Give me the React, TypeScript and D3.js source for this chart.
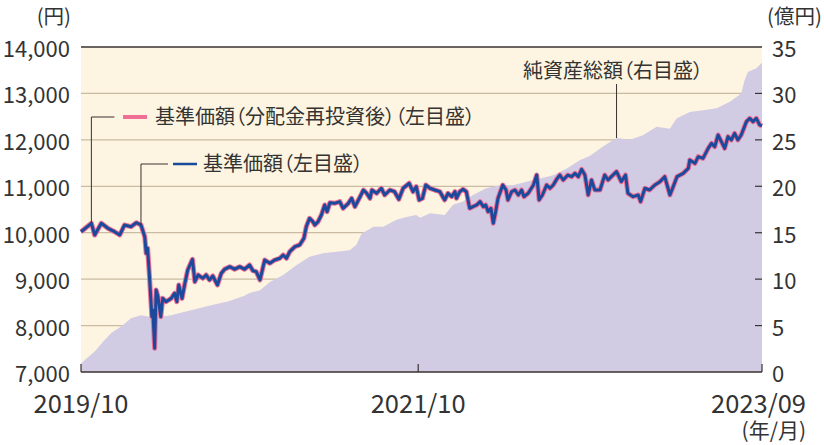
import React from 'react';
import * as d3 from 'd3';

// 基準価額 (left axis, 円)
const priceDates = [
  '2019-10-18','2019-11-09','2019-11-16','2019-11-30','2019-12-14','2019-12-28','2020-01-08','2020-01-18',
  '2020-02-01','2020-02-12','2020-02-22','2020-03-01','2020-03-04','2020-03-07','2020-03-11','2020-03-16',
  '2020-03-18','2020-03-22','2020-03-25','2020-03-29','2020-04-04','2020-04-08','2020-04-15','2020-04-26',
  '2020-05-03','2020-05-08','2020-05-12','2020-05-19','2020-05-25','2020-05-31','2020-06-10','2020-06-15',
  '2020-06-22','2020-07-02','2020-07-09','2020-07-16','2020-07-23','2020-08-02','2020-08-10','2020-08-17',
  '2020-08-28','2020-09-07','2020-09-18','2020-09-28','2020-10-09','2020-10-16','2020-10-23','2020-10-31',
  '2020-11-10','2020-11-21','2020-12-01','2020-12-12','2020-12-19','2020-12-26','2021-01-02','2021-01-13',
  '2021-01-23','2021-02-01','2021-02-06','2021-02-13','2021-02-20','2021-02-24','2021-03-03','2021-03-10',
  '2021-03-17','2021-03-22','2021-03-28','2021-04-07','2021-04-18','2021-04-25','2021-05-06','2021-05-13',
  '2021-05-20','2021-05-31','2021-06-07','2021-06-14','2021-06-21','2021-06-25','2021-07-05','2021-07-15',
  '2021-07-22','2021-08-02','2021-08-12','2021-08-21','2021-08-30','2021-09-12','2021-09-20','2021-09-27',
  '2021-10-03','2021-10-10','2021-10-17','2021-10-26','2021-11-05','2021-11-16','2021-11-26','2021-12-03',
  '2021-12-11','2021-12-18','2021-12-21','2021-12-28','2022-01-04','2022-01-11','2022-01-18','2022-01-25',
  '2022-02-02','2022-02-09','2022-02-16','2022-02-21','2022-02-26','2022-03-04','2022-03-09','2022-03-14',
  '2022-03-19','2022-03-29','2022-04-05','2022-04-09','2022-04-17','2022-04-24','2022-05-01','2022-05-08',
  '2022-05-13','2022-05-22','2022-06-02','2022-06-09','2022-06-14','2022-06-21','2022-06-30','2022-07-07',
  '2022-07-14','2022-07-21','2022-07-28','2022-08-04','2022-08-14','2022-08-22','2022-08-29','2022-09-05',
  '2022-09-12','2022-09-19','2022-09-26','2022-10-03','2022-10-10','2022-10-21','2022-10-31','2022-11-07',
  '2022-11-14','2022-11-25','2022-12-05','2022-12-14','2022-12-19','2022-12-30','2023-01-10','2023-01-15',
  '2023-01-24','2023-02-03','2023-02-14','2023-02-25','2023-03-07','2023-03-18','2023-03-25','2023-04-02',
  '2023-04-15','2023-04-26','2023-04-29','2023-05-10','2023-05-17','2023-05-27','2023-06-07','2023-06-14',
  '2023-06-21','2023-06-28','2023-07-05','2023-07-12','2023-07-19','2023-07-26','2023-08-02','2023-08-09',
  '2023-08-16','2023-08-27','2023-09-03','2023-09-10','2023-09-17','2023-09-24','2023-09-29',
];
const basePrice = [
  10020,10203,9951,10203,10095,10022,9951,10166,
  10130,10216,10166,9914,9557,9665,9053,8191,
  8336,7510,8766,8622,8191,8586,8514,8586,
  8694,8514,8874,8586,8910,9197,9427,8945,
  9090,9018,9090,8982,9068,8874,9126,9212,
  9269,9212,9269,9212,9305,9182,9161,8982,
  9412,9341,9412,9449,9520,9449,9592,9700,
  9736,9880,10130,10311,10238,10166,10238,10382,
  10597,10453,10647,10633,10669,10526,10633,10741,
  10561,10776,10920,10849,10741,10920,10849,10957,
  10813,10920,10884,10720,10957,11065,10884,10992,
  10705,10741,11028,10957,10920,10884,10705,10849,
  10776,10884,10741,10884,10934,10884,10526,10561,
  10597,10669,10561,10597,10453,10526,10203,10453,
  10741,11028,10920,10705,10884,10920,10813,10920,
  10776,10849,11028,11243,10705,10813,11028,10957,
  11028,11149,11243,11136,11243,11207,11279,11207,
  11366,11243,10813,11136,10920,10920,11243,11136,
  11207,11315,11100,11243,10849,10776,10813,10669,
  10957,10920,11028,11100,11207,10813,10992,11207,
  11279,11387,11566,11494,11638,11602,11817,11925,
  11853,12105,11961,11817,12069,11997,12141,11997,
  12105,12392,12464,12392,12464,12321,12300,
];
// 基準価額(分配金再投資後): no distributions paid, identical to 基準価額
const reinvestedPrice = basePrice;

// 純資産総額 (right axis, 億円)
const navDates = [
  '2019-10-18','2019-10-26','2019-11-16','2019-12-07','2019-12-21','2020-01-11','2020-02-01','2020-02-22',
  '2020-03-11','2020-04-05','2020-04-26','2020-05-25','2020-06-22','2020-07-19','2020-08-24','2020-09-28',
  '2020-10-09','2020-10-31','2020-11-21','2020-12-19','2021-01-16','2021-02-13','2021-03-14','2021-04-11',
  '2021-05-09','2021-05-23','2021-06-03','2021-06-28','2021-07-19','2021-08-16','2021-09-06','2021-09-27',
  '2021-10-05','2021-10-26','2021-11-26','2021-12-14','2022-01-04','2022-01-25','2022-02-22','2022-03-23',
  '2022-04-20','2022-05-18','2022-06-16','2022-07-14','2022-08-11','2022-09-08','2022-09-30','2022-10-28',
  '2022-11-25','2022-12-23','2023-01-20','2023-02-18','2023-03-18','2023-04-01','2023-04-29','2023-05-27',
  '2023-06-25','2023-07-23','2023-08-16','2023-08-23','2023-08-30','2023-09-17','2023-09-29',
];
const navValues = [
  0.9,1.3,2.2,3.45,4.2,4.9,5.8,6.1,
  5.95,5.95,6.1,6.5,6.85,7.2,7.6,8.2,
  8.5,8.8,9.7,10.45,11.5,12.4,12.8,12.95,
  13.1,13.7,14.9,15.65,15.65,16.4,16.7,16.9,
  16.6,17.1,16.9,18.0,18.35,19.05,19.8,20.1,
  20.1,20.5,20.85,21.2,21.9,22.8,23.3,24.3,
  25.2,25.0,25.5,26.4,26.2,27.3,28.0,28.2,
  28.4,29.1,30.0,31.4,32.3,32.7,33.3,
];

const leftTicks = [7000, 8000, 9000, 10000, 11000, 12000, 13000, 14000];
const rightTicks = [0, 5, 10, 15, 20, 25, 30, 35];
const xTickDates = ['2019-10-18', '2021-10-01', '2023-09-29'];
const xTickLabels = ['2019/10', '2021/10', '2023/09'];

const FONT = "'Noto Sans CJK JP', 'Noto Sans', sans-serif";
const TEXT = '#333';
const PALT: React.CSSProperties = { fontFeatureSettings: '"palt" 1' };

export default function App() {
  const W = 824, H = 445;
  const x0 = 81, x1 = 762, yTop = 47, yBot = 372;
  const parse = d3.timeParse('%Y-%m-%d');

  const x = d3.scaleTime()
    .domain([parse(xTickDates[0])!, parse(xTickDates[2])!])
    .range([x0, x1]);
  const yL = d3.scaleLinear().domain([7000, 14000]).range([yBot, yTop]);
  const yR = d3.scaleLinear().domain([0, 35]).range([yBot, yTop]);

  const pricePts = priceDates.map((d, i) => ({ d: parse(d)!, v: basePrice[i], r: reinvestedPrice[i] }));
  const navPts = navDates.map((d, i) => ({ d: parse(d)!, v: navValues[i] }));

  const area = d3.area<{ d: Date; v: number }>()
    .x(p => x(p.d)).y0(yBot).y1(p => yR(p.v));
  const lineBase = d3.line<{ d: Date; v: number; r: number }>()
    .x(p => x(p.d)).y(p => yL(p.v));
  const lineRe = d3.line<{ d: Date; v: number; r: number }>()
    .x(p => x(p.d)).y(p => yL(p.r));

  // leader targets
  const pinkPt = pricePts[1];
  const bluePt = pricePts[10];
  const navPt = navPts[48];

  return (
    <svg width={W} height={H} style={{ position: 'absolute', left: 0, top: 0, background: '#fff' }}
      fontFamily={FONT}>
      <rect x={x0} y={yTop} width={x1 - x0} height={yBot - yTop} fill="#fdf5e1" />
      {leftTicks.slice(1, -1).map(t => (
        <line key={t} x1={x0} x2={x1} y1={yL(t)} y2={yL(t)} stroke="#c9bca2" strokeWidth={1.2} />
      ))}
      <path d={area(navPts)!} fill="#d1cbe4" />
      {/* top border */}
      <line x1={x0} x2={x1} y1={yTop} y2={yTop} stroke="#3a3230" strokeWidth={1.3} />
      {/* bottom axis */}
      <line x1={x0} x2={x1} y1={yBot} y2={yBot} stroke="#3a3230" strokeWidth={1.3} />
      {xTickDates.map(d => (
        <line key={d} x1={x(parse(d)!)} x2={x(parse(d)!)} y1={yBot} y2={yBot - 8} stroke="#3a3230" strokeWidth={1.2} />
      ))}
      {/* right axis inner ticks */}
      {rightTicks.slice(1, -1).map(t => (
        <line key={t} x1={x1 - 7} x2={x1} y1={yR(t)} y2={yR(t)} stroke="#3a3230" strokeWidth={1.2} />
      ))}

      {/* price lines */}
      <path d={lineRe(pricePts)!} fill="none" stroke="#ef6f95" strokeWidth={5} strokeLinejoin="round" />
      <path d={lineBase(pricePts)!} fill="none" stroke="#1a4a9c" strokeWidth={3} strokeLinejoin="round" />

      {/* left tick labels */}
      {leftTicks.map(t => (
        <text key={t} x={70} y={yL(t) + 10} textAnchor="end" fontSize={22} fill={TEXT}>
          {d3.format(',')(t)}
        </text>
      ))}
      {/* right tick labels */}
      {rightTicks.map(t => (
        <text key={t} x={772} y={yR(t) + 10} textAnchor="start" fontSize={22} fill={TEXT}>
          {t}
        </text>
      ))}
      {/* x labels */}
      {xTickDates.map((d, i) => (
        <text key={d} x={i === 2 ? 806 : x(parse(d)!)} y={413}
          textAnchor={i === 2 ? 'end' : 'middle'} fontSize={25.5} fill={TEXT}>
          {xTickLabels[i]}
        </text>
      ))}
      <text x={806} y={438} textAnchor="end" fontSize={21} fill={TEXT}>(年/月)</text>
      <text x={71} y={24} textAnchor="end" fontSize={20.5} fill={TEXT}>(円)</text>
      <text x={767} y={24} textAnchor="start" fontSize={20.5} fill={TEXT}>(億円)</text>

      {/* legend: reinvested */}
      <polyline points={`${x(pinkPt.d)},${yL(pinkPt.v)} ${x(pinkPt.d)},117 ${x(pinkPt.d) + 23},117`}
        fill="none" stroke="#3a3230" strokeWidth={1} />
      <line x1={123} x2={147} y1={117} y2={117} stroke="#ef6f95" strokeWidth={4} />
      <text x={155} y={124} fontSize={20} fill={TEXT} style={PALT}>基準価額（分配金再投資後）（左目盛）</text>

      {/* legend: base */}
      <polyline points={`${x(bluePt.d)},${yL(bluePt.v)} ${x(bluePt.d)},164 ${x(bluePt.d) + 27},164`}
        fill="none" stroke="#3a3230" strokeWidth={1} />
      <line x1={173} x2={197} y1={164} y2={164} stroke="#1a4a9c" strokeWidth={2.5} />
      <text x={203} y={171} fontSize={20} fill={TEXT} style={PALT}>基準価額（左目盛）</text>

      {/* legend: NAV */}
      <line x1={x(navPt.d)} x2={x(navPt.d)} y1={84} y2={yR(navPt.v)} stroke="#3a3230" strokeWidth={1} />
      <text x={523} y={78} fontSize={20} fill={TEXT} style={PALT}>純資産総額（右目盛）</text>
    </svg>
  );
}
